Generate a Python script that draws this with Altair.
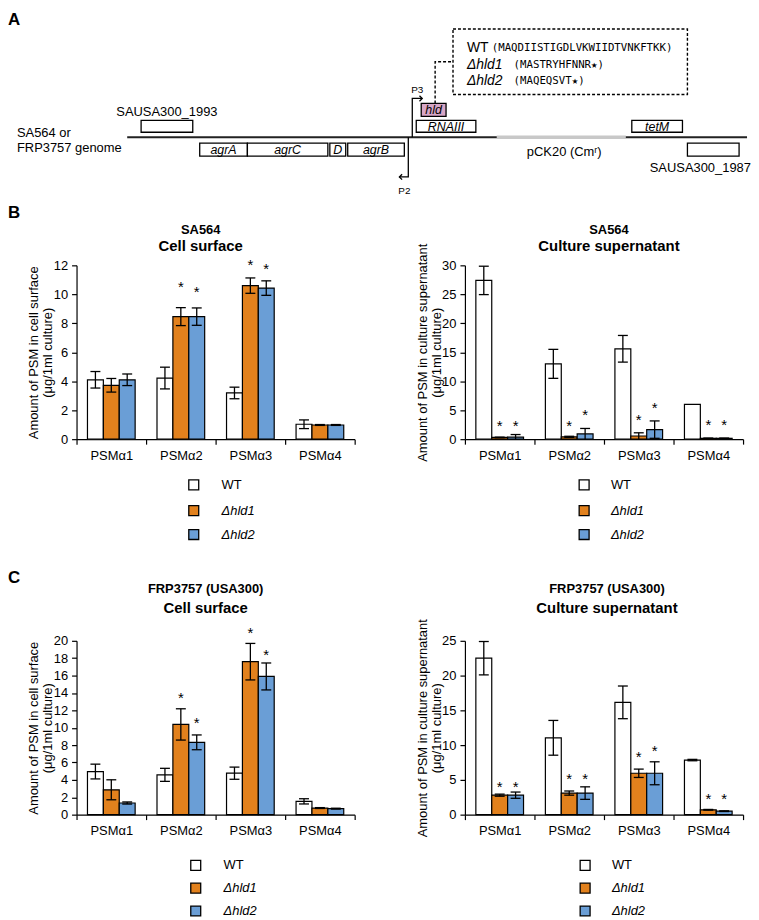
import altair as alt
import pandas as pd

# ---------------- Bar-chart data (panels B and C) ----------------
categories = ["PSMα1", "PSMα2", "PSMα3", "PSMα4"]
strains = ["WT", "Δhld1", "Δhld2"]
strain_colors = ["#FFFFFF", "#E2811D", "#6A9ED6"]

# rows: WT, Δhld1, Δhld2 ; columns: PSMα1..4
sa_cell_mean = [[4.10, 4.22, 3.19, 1.03], [3.72, 8.46, 10.60, 0.98], [4.10, 8.46, 10.43, 0.98]]
sa_cell_err = [[0.57, 0.75, 0.40, 0.30], [0.47, 0.62, 0.53, 0.03], [0.40, 0.60, 0.50, 0.03]]
sa_cell_star = [[None, None, None, None], [None, 10.8, 12.3, None], [None, 10.45, 12.0, None]]

sa_sup_mean = [[27.4, 13.0, 15.6, 6.0], [0.30, 0.40, 0.55, 0.15], [0.35, 0.90, 1.65, 0.15]]
sa_sup_err = [[2.45, 2.5, 2.3, 0.0], [0.05, 0.10, 0.55, 0.03], [0.45, 0.95, 1.5, 0.03]]
sa_sup_star = [[None, None, None, None], [2.9, 2.9, 4.06, 3.2], [3.0, 4.8, 6.1, 3.2]]

frp_cell_mean = [[4.96, 4.58, 4.77, 1.53], [2.86, 10.38, 17.6, 0.76], [1.34, 8.32, 15.9, 0.69]]
frp_cell_err = [[0.85, 0.75, 0.70, 0.30], [1.15, 1.8, 2.1, 0.05], [0.12, 0.85, 1.55, 0.05]]
frp_cell_star = [[None, None, None, None], [None, 13.9, 21.3, None], [None, 10.95, 18.8, None]]

frp_sup_mean = [[22.5, 11.05, 16.15, 7.85], [2.8, 3.1, 5.95, 0.70], [2.8, 3.1, 5.95, 0.50]]
frp_sup_err = [[2.4, 2.5, 2.35, 0.10], [0.15, 0.30, 0.60, 0.05], [0.45, 0.90, 1.65, 0.05]]
frp_sup_star = [[None, None, None, None], [4.6, 5.7, 8.8, 2.75], [4.6, 5.7, 9.75, 2.75]]

# ---------------- Genome map data (panel A) ----------------
box_names = ["SAUSA300_1993", "RNAIII", "tetM", "agrA", "agrC", "D", "agrB", "SAUSA300_1987"]
box_start = [134, 411, 628, 193, 241, 324, 342, 684]
box_end = [186, 471, 679, 241, 322, 340, 399, 736]
box_track = ["up", "up", "up", "down", "down", "down", "down", "down"]
box_inside = [False, True, True, True, True, True, True, False]
hld_start, hld_end = 416, 441
genome_span = [120, 744]
plasmid_span = [492, 622]
promoter_pos = {"P3": 407, "P2": 403}
seq_labels = ["WT", "Δhld1", "Δhld2"]
seq_strings = ["(MAQDIISTIGDLVKWIIDTVNKFTKK)", "(MASTRYHFNNR★)", "(MAQEQSVT★)"]

FONT = "Liberation Sans"
MONO = "DejaVu Sans Mono"

# ---------------- Panel A ----------------
X0, X1 = 69, 745          # map extent shown inside the plot frame (labels spill to the left)
Y0, Y1 = 3, 197
DW, DH = X1 - X0, Y1 - Y0
sx = alt.Scale(domain=[X0, X1], nice=False, zero=False)
sy = alt.Scale(domain=[Y0, Y1], nice=False, zero=False, reverse=True)
track_y = {"up": (113, 125), "down": (136, 149), "hld": (96, 109)}
LINE_Y = 130


def X(f):
    return alt.X(f, scale=sx, axis=None)


def Y(f):
    return alt.Y(f, scale=sy, axis=None)


line_df = pd.DataFrame({"x": [genome_span[0]], "x2": [genome_span[1]], "y": [LINE_Y]})
backbone = alt.Chart(line_df).mark_rule(color="#222222", strokeWidth=2).encode(
    x=X("x:Q"), x2="x2:Q", y=Y("y:Q"))
plas_df = pd.DataFrame({"x": [plasmid_span[0]], "x2": [plasmid_span[1]], "y": [LINE_Y]})
plasmid = alt.Chart(plas_df).mark_rule(color="#c8c8c8", strokeWidth=3.5).encode(
    x=X("x:Q"), x2="x2:Q", y=Y("y:Q"))

box_df = pd.DataFrame({
    "name": box_names, "start": box_start, "end": box_end,
    "top": [track_y[t][0] for t in box_track],
    "bot": [track_y[t][1] for t in box_track],
    "inside": box_inside,
})
box_df["mid"] = (box_df["start"] + box_df["end"]) / 2
box_df["ymid"] = (box_df["top"] + box_df["bot"]) / 2 + 0.5
boxes = alt.Chart(box_df).mark_rect(fill="white", stroke="black", strokeWidth=1.3).encode(
    x=X("start:Q"), x2="end:Q", y=Y("top:Q"), y2="bot:Q")
box_text = alt.Chart(box_df).transform_filter("datum.inside").mark_text(
    fontStyle="italic", fontSize=12.5, font=FONT, baseline="middle").encode(
    x=X("mid:Q"), y=Y("ymid:Q"), text="name:N")

hld_df = pd.DataFrame({"name": ["hld"], "start": [hld_start], "end": [hld_end],
                       "top": [track_y["hld"][0]], "bot": [track_y["hld"][1]]})
hld_df["mid"] = (hld_df["start"] + hld_df["end"]) / 2
hld_df["ymid"] = (hld_df["top"] + hld_df["bot"]) / 2 + 0.5
hld_box = alt.Chart(hld_df).mark_rect(fill="#d7a6c6", stroke="black", strokeWidth=1.3).encode(
    x=X("start:Q"), x2="end:Q", y=Y("top:Q"), y2="bot:Q")
hld_text = alt.Chart(hld_df).mark_text(fontStyle="italic", fontSize=12.5, font=FONT,
                                       baseline="middle").encode(
    x=X("mid:Q"), y=Y("ymid:Q"), text="name:N")

locus_df = pd.DataFrame({"t": [box_names[0], box_names[-1], "pCK20 (Cmʳ)"],
                         "x": [160, 697, 560], "y": [105, 161, 145]})
locus_text = alt.Chart(locus_df).mark_text(fontSize=13, font=FONT, baseline="middle").encode(
    x=X("x:Q"), y=Y("y:Q"), text="t:N")
genome_lbl_df = pd.DataFrame({"t": ["SA564 or", "FRP3757 genome"], "x": [9, 9], "y": [126, 141]})
genome_lbl = alt.Chart(genome_lbl_df).mark_text(fontSize=13, font=FONT, align="left",
                                                baseline="middle").encode(
    x=X("x:Q"), y=Y("y:Q"), text="t:N")

p3 = promoter_pos["P3"]
p2 = promoter_pos["P2"]
prom_df = pd.DataFrame({
    "p": ["P3", "P3", "P3", "P2", "P2", "P2"],
    "o": [0, 1, 2, 0, 1, 2],
    "x": [p3, p3, p3 + 10, p2, p2, p2 - 9],
    "y": [LINE_Y, 91, 91, LINE_Y, 170, 170],
})
prom_lines = alt.Chart(prom_df).mark_line(color="black", strokeWidth=1.3).encode(
    x=X("x:Q"), y=Y("y:Q"), detail="p:N", order="o:Q")
head_r = alt.Chart(pd.DataFrame({"x": [p3 + 10], "y": [91]})).mark_point(
    shape="M-1,-1L0,0L-1,1", filled=False, stroke="black", strokeWidth=1.3, size=30,
    opacity=1).encode(x=X("x:Q"), y=Y("y:Q"))
head_l = alt.Chart(pd.DataFrame({"x": [p2 - 9], "y": [170]})).mark_point(
    shape="M1,-1L0,0L1,1", filled=False, stroke="black", strokeWidth=1.3, size=30,
    opacity=1).encode(x=X("x:Q"), y=Y("y:Q"))
prom_text = alt.Chart(pd.DataFrame({"t": ["P3", "P2"], "x": [412, 399], "y": [82, 184]})).mark_text(
    fontSize=10, font=FONT, baseline="middle").encode(x=X("x:Q"), y=Y("y:Q"), text="t:N")

dbox = alt.Chart(pd.DataFrame({"x": [448], "x2": [684], "y": [21], "y2": [87]})).mark_rect(
    fill="white", fillOpacity=0, stroke="black", strokeWidth=1.4, strokeDash=[3, 2]).encode(
    x=X("x:Q"), x2="x2:Q", y=Y("y:Q"), y2="y2:Q")
conn = alt.Chart(pd.DataFrame({"o": [0, 1, 2], "x": [430, 430, 448], "y": [96, 54, 54]})).mark_line(
    color="black", strokeWidth=1.4, strokeDash=[3, 2]).encode(x=X("x:Q"), y=Y("y:Q"), order="o:Q")

seq_df = pd.DataFrame({"lab": seq_labels, "seq": seq_strings,
                       "y": [40, 57, 73], "lx": [462, 462, 462], "sx": [487, 509, 509]})
seq_wt = alt.Chart(seq_df).transform_filter("datum.lab == 'WT'").mark_text(
    fontSize=14, font=FONT, align="left", baseline="middle").encode(
    x=X("lx:Q"), y=Y("y:Q"), text="lab:N")
seq_mut = alt.Chart(seq_df).transform_filter("datum.lab != 'WT'").mark_text(
    fontSize=14, font=FONT, fontStyle="italic", align="left", baseline="middle").encode(
    x=X("lx:Q"), y=Y("y:Q"), text="lab:N")
seq_txt = alt.Chart(seq_df).mark_text(fontSize=10.8, font=MONO, align="left", baseline="middle").encode(
    x=X("sx:Q"), y=Y("y:Q"), text="seq:N")

letter_a = alt.Chart(pd.DataFrame({"t": ["A"], "x": [0], "y": [4]})).mark_text(
    fontSize=17, font=FONT, fontWeight="bold", align="left", baseline="top").encode(
    x=X("x:Q"), y=Y("y:Q"), text="t:N")

diagram = alt.layer(
    backbone, plasmid, boxes, box_text, hld_box, hld_text, locus_text, genome_lbl,
    prom_lines, head_r, head_l, prom_text, dbox, conn, seq_wt, seq_mut, seq_txt, letter_a
).properties(width=DW, height=DH)

# ---------------- Bar panels ----------------
W, H = 280, 175


def make_df(means, errs, stars):
    rows = []
    for si, s in enumerate(strains):
        for ci, c in enumerate(categories):
            m = means[si][ci]
            e = errs[si][ci]
            rows.append(dict(cat=c, strain=s, mean=m, lo=max(0.0, m - e), hi=m + e, err=e,
                             star=stars[si][ci]))
    return pd.DataFrame(rows)


def panel(means, errs, stars, ymax, ystep, ytitle, t1, t2, title_x, t1_y, t2_y,
          letter, letter_y, letter_visible, sq_x, tx_x, leg_ys):
    df = make_df(means, errs, stars)
    yscale = alt.Scale(domain=[0, ymax], nice=False, zero=True)
    xaxis = alt.Axis(title=None, labelAngle=0, tickBand="extent", labelFontSize=13,
                     labelFont=FONT, labelColor="black", labelPadding=5, tickSize=5,
                     tickColor="black", domainColor="black", tickWidth=1.2, domainWidth=1.2)
    xenc = alt.X("cat:N", sort=categories, scale=alt.Scale(paddingInner=0, paddingOuter=0),
                 axis=xaxis)
    xoff = alt.XOffset("strain:N", sort=strains, scale=alt.Scale(paddingInner=0, paddingOuter=0.6875))
    yaxis = alt.Axis(values=list(range(0, ymax + 1, ystep)), title=ytitle, titleFontSize=13,
                     titleFont=FONT, titleFontWeight="normal", titleColor="black", titleX=-43,
                     titleY=H / 2, titleAngle=270, titleAlign="center", titleBaseline="middle",
                     titleLineHeight=14, labelFontSize=13, labelFont=FONT, labelColor="black",
                     labelPadding=4, tickSize=5, tickColor="black", domainColor="black",
                     tickWidth=1.2, domainWidth=1.2, grid=False)

    def Yq(f):
        return alt.Y(f, scale=yscale, axis=yaxis)

    base = alt.Chart(df)
    bars = base.mark_bar(stroke="black", strokeWidth=1.2).encode(
        x=xenc, xOffset=xoff, y=Yq("mean:Q"),
        fill=alt.Fill("strain:N", scale=alt.Scale(domain=strains, range=strain_colors), legend=None))
    ebase = base.transform_filter("datum.err > 0")
    rules = ebase.mark_rule(color="black", strokeWidth=1.3).encode(
        x=xenc, xOffset=xoff, y=Yq("lo:Q"), y2="hi:Q")
    cap_hi = ebase.mark_tick(color="black", size=10, thickness=1.3, orient="horizontal",
                             opacity=1).encode(x=xenc, xOffset=xoff, y=Yq("hi:Q"))
    cap_lo = ebase.transform_filter("datum.lo > 0").mark_tick(
        color="black", size=10, thickness=1.3, orient="horizontal", opacity=1).encode(
        x=xenc, xOffset=xoff, y=Yq("lo:Q"))
    star = base.transform_filter("isValid(datum.star)").mark_text(
        text="*", fontSize=15, font=FONT, baseline="middle", dy=4, color="black").encode(
        x=xenc, xOffset=xoff, y=Yq("star:Q"))

    layers = [bars, rules, cap_hi, cap_lo, star]
    tdf = pd.DataFrame({"t": [t1]})
    layers.append(alt.Chart(tdf).mark_text(fontSize=13, fontWeight="bold", font=FONT,
                                           baseline="middle").encode(
        x=alt.value(title_x), y=alt.value(t1_y), text="t:N"))
    tdf2 = pd.DataFrame({"t": [t2]})
    layers.append(alt.Chart(tdf2).mark_text(fontSize=15, fontWeight="bold", font=FONT,
                                            baseline="middle").encode(
        x=alt.value(title_x), y=alt.value(t2_y), text="t:N"))
    if letter_visible:
        ldf = pd.DataFrame({"t": [letter]})
        layers.append(alt.Chart(ldf).mark_text(fontSize=17, fontWeight="bold", font=FONT,
                                               align="left", baseline="middle").encode(
            x=alt.value(-69), y=alt.value(letter_y), text="t:N"))
    for i, s in enumerate(strains):
        sdf = pd.DataFrame({"s": [s]})
        layers.append(alt.Chart(sdf).mark_point(shape="square", filled=True, fill=strain_colors[i],
                                                stroke="black", strokeWidth=1.3, size=100,
                                                opacity=1).encode(
            x=alt.value(sq_x), y=alt.value(leg_ys[i])))
        layers.append(alt.Chart(sdf).mark_text(fontSize=13, font=FONT, align="left", baseline="middle",
                                               fontStyle="normal" if i == 0 else "italic").encode(
            x=alt.value(tx_x), y=alt.value(leg_ys[i]), text="s:N"))
    return alt.layer(*layers).properties(width=W, height=H)


cell_title = ["Amount of PSM in cell surface", "(μg/1ml culture)"]
sup_title = ["Amount of PSM in culture supernatant", "(μg/1ml culture)"]

b1 = panel(sa_cell_mean, sa_cell_err, sa_cell_star, 12, 2, cell_title, "SA564", "Cell surface",
           125, -36, -19, "B", -53, True, 118, 146, [221, 247, 271])
b2 = panel(sa_sup_mean, sa_sup_err, sa_sup_star, 30, 5, sup_title, "SA564", "Culture supernatant",
           145, -36, -19, "B", -53, False, 120, 147, [221, 247, 271])
c1 = panel(frp_cell_mean, frp_cell_err, frp_cell_star, 20, 2, cell_title, "FRP3757 (USA300)",
           "Cell surface", 130, -52, -33, "C", -63, True, 120, 148, [226, 249, 272])
c2 = panel(frp_sup_mean, frp_sup_err, frp_sup_star, 25, 5, sup_title, "FRP3757 (USA300)",
           "Culture supernatant", 143, -52, -33, "C", -63, False, 121, 148, [226, 249, 272])

row_b = alt.hconcat(b1, b2, spacing=60)
row_c = alt.hconcat(c1, c2, spacing=60)
lower = alt.vconcat(row_b, row_c, spacing=27)

chart = alt.vconcat(diagram, lower, spacing=0).properties(padding=0).configure(
    font=FONT).configure_view(stroke=None)

chart.save("out.html", embed_options={"renderer": "svg", "actions": False})
